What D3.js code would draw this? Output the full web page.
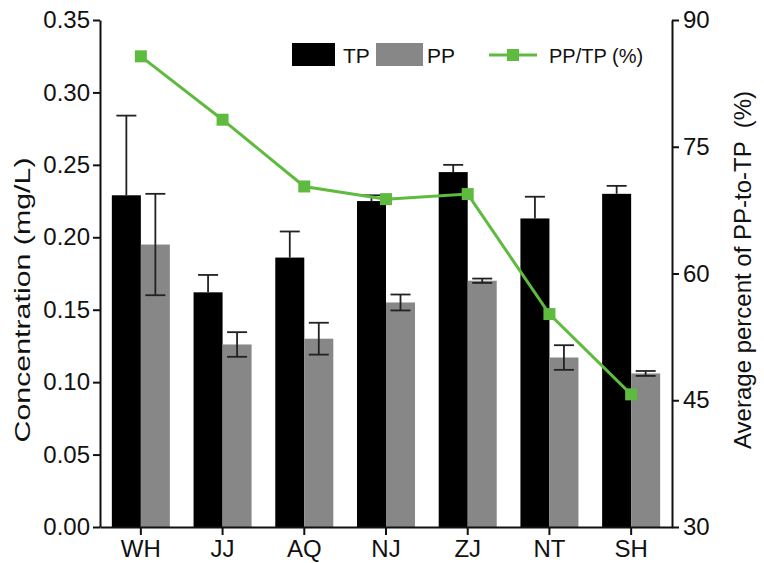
<!DOCTYPE html>
<html>
<head>
<meta charset="utf-8">
<script src="https://cdnjs.cloudflare.com/ajax/libs/d3/7.8.5/d3.min.js"></script>
<style>
  body { margin: 0; background: #fff; }
  svg text { font-family: "Liberation Sans", Arial, sans-serif; fill: #111; }
</style>
</head>
<body>
<div id="chart"></div>
<script>
// data
var categories = ["WH", "JJ", "AQ", "NJ", "ZJ", "NT", "SH"];
var seriesNames = ["TP", "PP"];
var tpValues = [0.229, 0.162, 0.186, 0.225, 0.245, 0.213, 0.230];
var tpErrors = [0.055, 0.012, 0.018, 0.004, 0.005, 0.015, 0.0055];
var ppValues = [0.195, 0.126, 0.130, 0.155, 0.170, 0.117, 0.106];
var ppErrors = [0.035, 0.0085, 0.011, 0.0055, 0.0015, 0.0085, 0.0017];
var ratioValues = [85.7, 78.2, 70.3, 68.8, 69.4, 55.2, 45.7];
var leftTicks = [0, 0.05, 0.10, 0.15, 0.20, 0.25, 0.30, 0.35];
var rightTicks = [30, 45, 60, 75, 90];

var width = 764,
    height = 563,
    margin = {top: 20, right: 92, bottom: 36, left: 100};

var barColors = {TP: "#000000", PP: "#878787"};
var green = "#5fbb3f";

var svg = d3.select("#chart").append("svg")
    .attr("width", width)
    .attr("height", height);

var x0 = d3.scaleBand()
    .domain(categories)
    .range([margin.left, width - margin.right])
    .paddingInner(0.29)
    .paddingOuter(0.145);

var x1 = d3.scaleBand()
    .domain(seriesNames)
    .range([0, x0.bandwidth()]);

var y = d3.scaleLinear()
    .domain([0, 0.35])
    .range([height - margin.bottom, margin.top]);

var y2 = d3.scaleLinear()
    .domain([30, 90])
    .range([height - margin.bottom, margin.top]);

// bars
var rows = categories.map(function(c, i) {
  return [
    {cat: c, key: "TP", value: tpValues[i], err: tpErrors[i]},
    {cat: c, key: "PP", value: ppValues[i], err: ppErrors[i]}
  ];
});

var groups = svg.append("g").selectAll("g")
    .data(rows)
    .join("g")
    .attr("transform", function(d) { return "translate(" + x0(d[0].cat) + ",0)"; });

groups.selectAll("rect")
    .data(function(d) { return d; })
    .join("rect")
    .attr("x", function(d) { return x1(d.key); })
    .attr("y", function(d) { return y(d.value); })
    .attr("width", x1.bandwidth())
    .attr("height", function(d) { return y(0) - y(d.value); })
    .attr("fill", function(d) { return barColors[d.key]; });

// error bars (the lower half of TP is hidden inside the black bar)
var capW = 20;
function lowEnd(d) { return d.key == "TP" ? d.value : d.value - d.err; }

var errs = groups.selectAll("g.err")
    .data(function(d) { return d; })
    .join("g")
    .attr("class", "err")
    .attr("stroke", "#222")
    .attr("stroke-width", 1.8);

errs.append("line")
    .attr("x1", function(d) { return x1(d.key) + x1.bandwidth() / 2; })
    .attr("x2", function(d) { return x1(d.key) + x1.bandwidth() / 2; })
    .attr("y1", function(d) { return y(lowEnd(d)); })
    .attr("y2", function(d) { return y(d.value + d.err); });

errs.append("line")
    .attr("x1", function(d) { return x1(d.key) + x1.bandwidth() / 2 - capW / 2; })
    .attr("x2", function(d) { return x1(d.key) + x1.bandwidth() / 2 + capW / 2; })
    .attr("y1", function(d) { return y(d.value + d.err); })
    .attr("y2", function(d) { return y(d.value + d.err); });

errs.filter(function(d) { return d.key == "PP"; }).append("line")
    .attr("x1", function(d) { return x1(d.key) + x1.bandwidth() / 2 - capW / 2; })
    .attr("x2", function(d) { return x1(d.key) + x1.bandwidth() / 2 + capW / 2; })
    .attr("y1", function(d) { return y(d.value - d.err); })
    .attr("y2", function(d) { return y(d.value - d.err); });

// ratio line
var line = d3.line()
    .x(function(d, i) { return x0(categories[i]) + x0.bandwidth() / 2; })
    .y(function(d) { return y2(d); });

svg.append("path")
    .datum(ratioValues)
    .attr("fill", "none")
    .attr("stroke", green)
    .attr("stroke-width", 3)
    .attr("d", line);

svg.append("g").selectAll("rect")
    .data(ratioValues)
    .join("rect")
    .attr("x", function(d, i) { return x0(categories[i]) + x0.bandwidth() / 2 - 6; })
    .attr("y", function(d) { return y2(d) - 6; })
    .attr("width", 12)
    .attr("height", 12)
    .attr("fill", green);

// axes
var xAxis = svg.append("g")
    .attr("transform", "translate(0," + y(0) + ")")
    .call(d3.axisBottom(x0).tickSize(8).tickSizeOuter(0));

var yAxis = svg.append("g")
    .attr("transform", "translate(" + margin.left + ",0)")
    .call(d3.axisLeft(y).tickValues(leftTicks).tickFormat(d3.format(".2f")).tickSize(7).tickSizeOuter(0));

var y2Axis = svg.append("g")
    .attr("transform", "translate(" + (width - margin.right) + ",0)")
    .call(d3.axisRight(y2).tickValues(rightTicks).tickSize(7).tickSizeOuter(0));

[xAxis, yAxis, y2Axis].forEach(function(a) {
  a.select(".domain").attr("stroke", "#111").attr("stroke-width", 2);
  a.selectAll(".tick line").attr("stroke", "#111").attr("stroke-width", 2);
  a.selectAll(".tick text").style("font-size", "24px").attr("fill", "#111");
});
xAxis.selectAll(".tick text").attr("y", 13).attr("dy", "0.71em");
yAxis.selectAll(".tick text").attr("x", -10);
y2Axis.selectAll(".tick text").attr("x", 11);

// axis titles
svg.append("text")
    .attr("transform", "translate(30," + 300 + ") rotate(-90)")
    .attr("text-anchor", "middle")
    .style("font-size", "22px")
    .attr("textLength", 285)
    .attr("lengthAdjust", "spacingAndGlyphs")
    .text("Concentration (mg/L)");

svg.append("text")
    .attr("transform", "translate(751," + 270 + ") rotate(-90)")
    .attr("text-anchor", "middle")
    .style("font-size", "24px")
    .style("white-space", "pre")
    .text("Average percent of PP-to-TP  (%)");

// legend
var legend = svg.append("g");
legend.append("rect").attr("x", 292).attr("y", 43).attr("width", 43).attr("height", 23).attr("fill", barColors.TP);
legend.append("text").attr("x", 343).attr("y", 63).style("font-size", "21px").text("TP");
legend.append("rect").attr("x", 376).attr("y", 43).attr("width", 47).attr("height", 23).attr("fill", barColors.PP);
legend.append("text").attr("x", 427).attr("y", 63).style("font-size", "21px").text("PP");
legend.append("line").attr("x1", 489).attr("x2", 537).attr("y1", 55).attr("y2", 55)
    .attr("stroke", green).attr("stroke-width", 3);
legend.append("rect").attr("x", 507).attr("y", 49).attr("width", 12).attr("height", 12).attr("fill", green);
legend.append("text").attr("x", 549).attr("y", 63).style("font-size", "20px").text("PP/TP (%)");
</script>
</body>
</html>
